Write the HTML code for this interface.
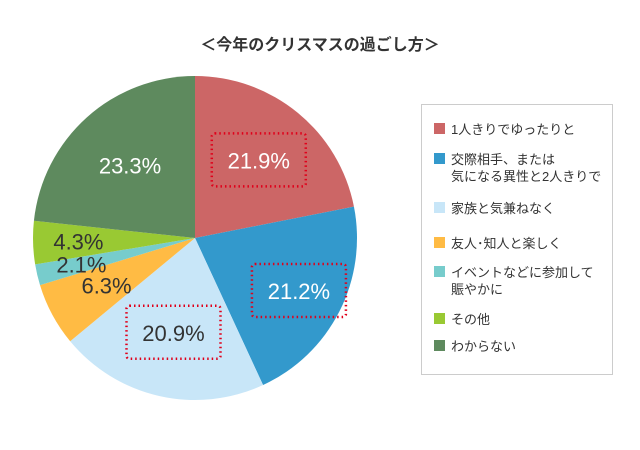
<!DOCTYPE html>
<html><head><meta charset="utf-8"><style>
body{margin:0;background:#fff;width:640px;height:445px;overflow:hidden;font-family:"Liberation Sans","Noto Sans CJK JP",sans-serif}
</style></head><body>
<svg width="640" height="445" xmlns="http://www.w3.org/2000/svg">
<text x="320" y="50" text-anchor="middle" font-size="16" font-weight="bold" fill="#333" font-family="Liberation Sans, Noto Sans CJK JP, sans-serif">＜今年のクリスマスの過ごし方＞</text>
<g id="slices"></g>
<g id="labels"></g>
<rect x="421.5" y="104.5" width="191" height="270" fill="#fff" stroke="#ccc"/>
<g id="legend"></g>
</svg>
<script>
const categories=["1人きりでゆったりと","交際相手、または|気になる異性と2人きりで","家族と気兼ねなく","友人･知人と楽しく","イベントなどに参加して|賑やかに","その他","わからない"];
const values=[21.9,21.2,20.9,6.3,2.1,4.3,23.3];
const colors=["#cc6666","#3399cc","#c8e6f8","#ffbb44","#77cccc","#99c933","#5e8a5e"];
const labelColors=["#fff","#fff","#333","#333","#333","#333","#fff"];
const boxed=[true,true,true,false,false,false,false];
const legendY=[129,159,208,243,272,319,346];
const NS="http://www.w3.org/2000/svg";
const cx=195,cy=238,r=162;
const total=values.reduce((a,b)=>a+b,0);
function pt(a,rr){return [cx+rr*Math.sin(a),cy-rr*Math.cos(a)];}
const gs=document.getElementById('slices'),gl=document.getElementById('labels'),gg=document.getElementById('legend');
let acc=0;
const labelR=[0.62,0.72,0.6,0.62,0.72,0.72,0.6];
values.forEach((v,i)=>{
 const a0=acc/total*2*Math.PI;acc+=v;const a1=acc/total*2*Math.PI;
 const p0=pt(a0,r),p1=pt(a1,r);
 const p=document.createElementNS(NS,'path');
 p.setAttribute('d',`M${cx},${cy}L${p0[0]},${p0[1]}A${r},${r} 0 ${a1-a0>Math.PI?1:0} 1 ${p1[0]},${p1[1]}Z`);
 p.setAttribute('fill',colors[i]);
 
 
 gs.appendChild(p);
 const m=(a0+a1)/2;const lp=pt(m,r*labelR[i]);
 if(boxed[i]){
  const b=document.createElementNS(NS,'rect');
  b.setAttribute('x',lp[0]-47);b.setAttribute('y',lp[1]-27);b.setAttribute('width',94);b.setAttribute('height',53);
  b.setAttribute('rx',3);b.setAttribute('fill','none');b.setAttribute('stroke','#e0001a');b.setAttribute('stroke-width',2.5);b.setAttribute('stroke-dasharray','1.5 3');
  
  
  gl.appendChild(b);
 }
 const t=document.createElementNS(NS,'text');
 t.setAttribute('x',lp[0]);t.setAttribute('y',lp[1]+8);t.setAttribute('text-anchor','middle');
 t.setAttribute('font-size',22);t.setAttribute('fill',labelColors[i]);
 t.textContent=v.toFixed(1)+'%';
 
 
 gl.appendChild(t);
 const sq=document.createElementNS(NS,'rect');
 sq.setAttribute('x',434);sq.setAttribute('y',legendY[i]-6);sq.setAttribute('width',11);sq.setAttribute('height',11);sq.setAttribute('fill',colors[i]);
 
 
 gg.appendChild(sq);
 categories[i].split('|').forEach((ln,j)=>{
  const lt=document.createElementNS(NS,'text');
  lt.setAttribute('x',451);lt.setAttribute('y',legendY[i]+5+j*17);lt.setAttribute('font-size',13);lt.setAttribute('fill','#333');
  lt.textContent=ln;
  
  
  gg.appendChild(lt);
 });
});
</script>
</body></html>
